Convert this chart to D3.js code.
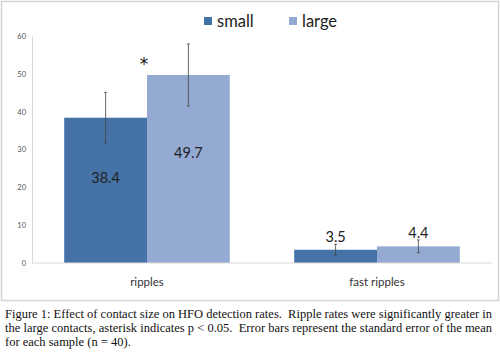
<!DOCTYPE html>
<html><head><meta charset="utf-8">
<script src="https://cdn.jsdelivr.net/npm/d3@7"></script>
<style>body{margin:0;background:#fff;}svg{display:block;}</style>
</head><body>
<svg id="c" width="500" height="364"></svg>
<script>
const categories = ["ripples", "fast ripples"];
const seriesNames = ["small", "large"];
const smallValues = [38.4, 3.5];
const largeValues = [49.7, 4.4];
const smallErrors = [6.7, 1.45];
const largeErrors = [8.2, 1.7];
const yTicks = [0, 10, 20, 30, 40, 50, 60];
const captionLines = [
  "Figure 1: Effect of contact size on HFO detection rates.  Ripple rates were significantly greater in",
  "the large contacts, asterisk indicates p < 0.05.  Error bars represent the standard error of the mean",
  "for each sample (n = 40)."
];
const colors = ["#4572A7", "#94AAD3"];

(function () {
const svg = d3.select("#c");
const sans = "Lato, 'Open Sans', 'Liberation Sans', sans-serif";
const pLeft = 32, pRight = 492, pTop = 36, pBottom = 263;
const y = d3.scaleLinear().domain([0, 60]).range([pBottom, pTop]);
const xg = d3.scaleBand().domain(categories).range([pLeft, pRight]).paddingInner(0.28).paddingOuter(0.14);
const x1 = d3.scaleBand().domain(seriesNames).range([0, xg.bandwidth()]);

// frame
svg.append("rect").attr("x", 1.5).attr("y", 1.5).attr("width", 497).attr("height", 299)
  .attr("fill", "#fff").attr("stroke", "#d4d4d4").attr("stroke-width", 1.5);

// y axis
const yAxis = d3.axisLeft(y).tickValues(yTicks).tickSize(0).tickPadding(6);
const ga = svg.append("g").attr("transform", `translate(${pLeft},0)`).call(yAxis);
ga.select(".domain").attr("stroke", "#d9d9d9");
ga.selectAll("text").attr("font-family", sans).attr("font-size", 7.5).attr("fill", "#555");

const data = categories.map((c, i) => ({cat: c, vals: [
  {s: "small", v: smallValues[i], e: smallErrors[i]},
  {s: "large", v: largeValues[i], e: largeErrors[i]}
]}));

const g = svg.append("g").selectAll("g").data(data).join("g")
  .attr("transform", d => `translate(${xg(d.cat)},0)`);
g.selectAll("rect").data(d => d.vals).join("rect")
  .attr("x", d => x1(d.s)).attr("width", x1.bandwidth())
  .attr("y", d => y(d.v)).attr("height", d => y(0) - y(d.v))
  .attr("fill", (d, i) => colors[i]);

// error bars
const cx = d => x1(d.s) + x1.bandwidth() / 2;
const eb = g.selectAll("g.eb").data(d => d.vals).join("g").attr("class", "eb");
eb.append("line").attr("x1", cx).attr("x2", cx)
  .attr("y1", d => y(d.v + d.e)).attr("y2", d => y(d.v - d.e)).attr("stroke", "#444").attr("stroke-width", 0.8);
eb.append("line").attr("x1", d => cx(d) - 1.5).attr("x2", d => cx(d) + 1.5)
  .attr("y1", d => y(d.v + d.e)).attr("y2", d => y(d.v + d.e)).attr("stroke", "#444").attr("stroke-width", 0.8);
eb.append("line").attr("x1", d => cx(d) - 1.5).attr("x2", d => cx(d) + 1.5)
  .attr("y1", d => y(d.v - d.e)).attr("y2", d => y(d.v - d.e)).attr("stroke", "#444").attr("stroke-width", 0.8);

// baseline
svg.append("line").attr("x1", pLeft).attr("x2", pRight).attr("y1", y(0)).attr("y2", y(0))
  .attr("stroke", "#d9d9d9").attr("stroke-width", 1.2);

// value labels
g.selectAll("text.val").data(d => d.vals).join("text").attr("class", "val")
  .attr("x", cx)
  .attr("y", d => d.v > 20 ? y(d.v * 0.585) : y(d.v + d.e) - 7)
  .attr("dy", "0.35em").attr("text-anchor", "middle")
  .attr("font-family", sans).attr("font-size", 14.5).attr("fill", "#222")
  .text(d => d.v.toFixed(1));

// asterisk
svg.append("text").attr("x", xg("ripples") + x1("large") - 3).attr("y", y(largeValues[0] + 1.3))
  .attr("text-anchor", "middle").attr("font-family", "'DejaVu Sans', sans-serif")
  .attr("font-size", 17).attr("fill", "#111").text("*");

// category labels
svg.selectAll("text.cat").data(categories).join("text").attr("class", "cat")
  .attr("x", d => xg(d) + xg.bandwidth() / 2).attr("y", 286)
  .attr("text-anchor", "middle").attr("font-family", sans)
  .attr("font-size", 11.5).attr("fill", "#333").text(d => d);

// legend
const lg = svg.append("g");
const legX = [204, 289];
seriesNames.forEach((s, i) => {
  lg.append("rect").attr("x", legX[i]).attr("y", 17).attr("width", 8).attr("height", 8).attr("fill", colors[i]);
  lg.append("text").attr("x", legX[i] + 13).attr("y", 26.5).attr("font-family", sans)
    .attr("font-size", 16.5).attr("fill", "#222").text(s);
});

// caption
svg.selectAll("text.cap").data(captionLines).join("text").attr("class", "cap")
  .attr("x", 5).attr("y", (d, i) => 318 + i * 13.8)
  .attr("font-family", "'Liberation Serif', 'Times New Roman', serif").attr("font-size", 12.5).attr("fill", "#111")
  .attr("textLength", (d, i) => i < 2 ? 487 : null)
  .attr("lengthAdjust", "spacing")
  .attr("xml:space", "preserve")
  .text(d => d);
})();
</script>
</body></html>
